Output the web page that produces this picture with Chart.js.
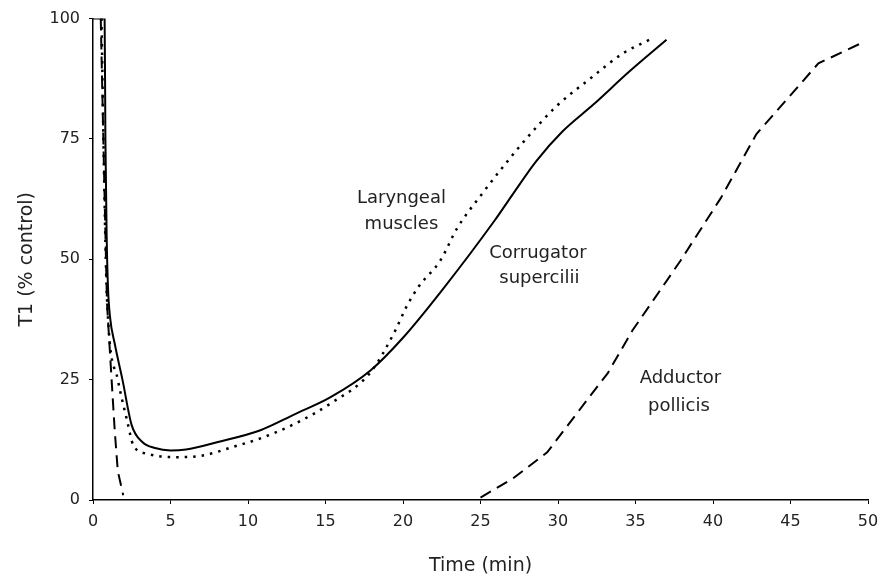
<!DOCTYPE html>
<html>
<head>
<meta charset="utf-8">
<script src="https://cdn.jsdelivr.net/npm/chart.js@4/dist/chart.umd.min.js"></script>
<style>
  html, body { margin: 0; padding: 0; background: #fff; }
  #wrap { width: 889px; height: 579px; position: relative; }
</style>
</head>
<body>
<div id="wrap"><canvas id="chart"></canvas></div>
<script>
// Corrugator supercilii (solid)
var corrTime = [0, 0.75, 0.8, 0.88, 0.97, 1.1, 1.4, 1.9, 2.5, 3.2, 4, 5, 6, 8, 10.8, 13, 15.3, 17.9, 20, 22.5, 25.9, 27.1, 28.6, 30.3, 32.3, 34.6, 37];
var corrT1   = [100, 100, 75, 55, 44, 38, 32.5, 25, 15.5, 12, 10.8, 10.3, 10.5, 12, 14.5, 17.8, 21.3, 26.9, 33.7, 43.5, 58, 63.6, 70.4, 76.6, 82.2, 89, 95.6];

// Laryngeal muscles (dotted)
var larTime = [0.55, 0.7, 0.9, 1.6, 2.2, 2.6, 3.5, 5.2, 7, 9, 10.8, 13, 15.3, 17.9, 19.5, 20.2, 21, 22.4, 23.5, 25.1, 26.6, 28.1, 29.9, 32.1, 34.2, 35.9];
var larT1   = [100, 70, 42, 25, 16.5, 11.4, 9.6, 8.9, 9.2, 11, 12.8, 15.8, 20, 26.5, 35.2, 40, 44.3, 49.7, 56.5, 63.6, 69.8, 75.6, 81.8, 87.6, 92.8, 95.6];

// Adductor pollicis (dashed), null = no line along the axis
var addTime = [0.5, 0.7, 0.9, 1.2, 1.4, 1.6, 1.95, 10, 25, 27.1, 29.3, 32.5, 33.2, 34.8, 37.9, 40.5, 42.8, 46.8, 49.5];
var addT1   = [100, 70, 41, 25, 14.5, 6, 1, null, 0.5, 4.5, 9.9, 23.4, 26.3, 35.2, 49.7, 62.7, 76, 90.7, 94.8];

var xTicks = [0, 5, 10, 15, 20, 25, 30, 35, 40, 45, 50];
var yTicks = [0, 25, 50, 75, 100];

var notes = [
  ["Laryngeal", 19.9, 62.7],
  ["muscles", 19.9, 57.3],
  ["Corrugator", 28.7, 51.3],
  ["supercilii", 28.8, 46],
  ["Adductor", 37.9, 25.3],
  ["pollicis", 37.8, 19.5]
];

function pts(xs, ys) {
  return xs.map(function (x, i) { return { x: x, y: ys[i] }; });
}

var FONT = "'DejaVu Sans', sans-serif";

var notePlugin = {
  id: "notes",
  afterDatasetsDraw: function (chart) {
    var ctx = chart.ctx;
    var xs = chart.scales.x, ys = chart.scales.y;
    ctx.save();
    ctx.fillStyle = "#222";
    ctx.font = "18px " + FONT;
    ctx.textAlign = "center";
    ctx.textBaseline = "middle";
    notes.forEach(function (n) {
      ctx.fillText(n[0], xs.getPixelForValue(n[1]), ys.getPixelForValue(n[2]));
    });
    ctx.restore();
  }
};

new Chart(document.getElementById("chart"), {
  type: "line",
  data: {
    datasets: [
      {
        label: "Corrugator supercilii",
        data: pts(corrTime, corrT1),
        borderColor: "#000",
        borderWidth: 2,
        pointRadius: 0,
        cubicInterpolationMode: "monotone"
      },
      {
        label: "Laryngeal muscles",
        data: pts(larTime, larT1),
        borderColor: "#000",
        borderWidth: 2.5,
        borderDash: [2.5, 6],
        pointRadius: 0,
        cubicInterpolationMode: "monotone"
      },
      {
        label: "Adductor pollicis",
        data: pts(addTime, addT1),
        borderColor: "#000",
        borderWidth: 2,
        borderDash: [12, 7],
        pointRadius: 0,
        tension: 0,
        spanGaps: false
      }
    ]
  },
  options: {
    responsive: true,
    maintainAspectRatio: false,
    animation: false,
    layout: { padding: { top: 17, right: 21, left: 0, bottom: 0 } },
    plugins: {
      legend: { display: false },
      tooltip: { enabled: false }
    },
    scales: {
      x: {
        type: "linear",
        min: 0,
        max: 50,
        afterBuildTicks: function (s) { s.ticks = xTicks.map(function (v) { return { value: v }; }); },
        grid: { display: true, drawOnChartArea: false, drawTicks: true, tickLength: 4, color: "#000" },
        border: { display: true, color: "#000", width: 1.5 },
        ticks: { color: "#222", font: { family: FONT, size: 16 }, padding: 8, maxRotation: 0 },
        title: { display: true, text: "Time (min)", color: "#222", font: { family: FONT, size: 19 }, padding: { top: 0, bottom: 2 } },
        afterFit: function (s) { s.height = 79; }
      },
      y: {
        min: 0,
        max: 100,
        afterBuildTicks: function (s) { s.ticks = yTicks.map(function (v) { return { value: v }; }); },
        grid: { display: true, drawOnChartArea: false, drawTicks: true, tickLength: 4, color: "#000" },
        border: { display: true, color: "#000", width: 1.5 },
        ticks: { color: "#222", font: { family: FONT, size: 16 }, padding: 9 },
        title: { display: true, text: "T1 (% control)", color: "#222", font: { family: FONT, size: 19 }, padding: { top: 16, bottom: 0 } },
        afterFit: function (s) { s.width = 93; }
      }
    }
  },
  plugins: [notePlugin]
});
</script>
</body>
</html>
